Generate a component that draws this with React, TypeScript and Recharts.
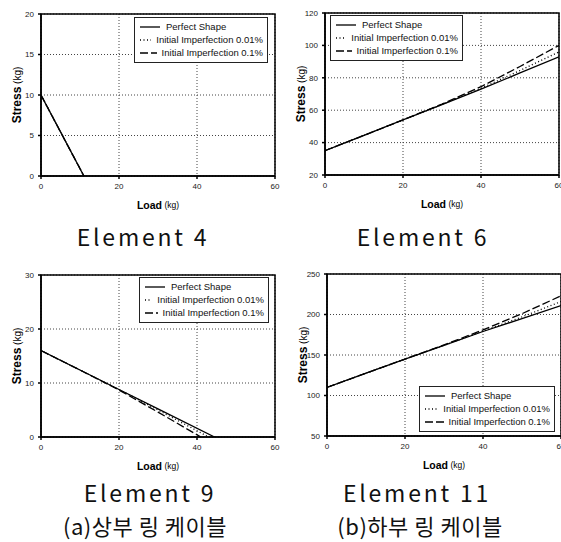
import React from 'react';
import { LineChart, Line, XAxis, YAxis, CartesianGrid, ReferenceArea, Legend, Label } from 'recharts';

// x axis is the same for all four panels
const loadTicks = [0, 20, 40, 60];

// Element 4
const e4Ticks = [0, 5, 10, 15, 20];
const e4Load = [0, 11];
const e4Perfect = [10, 0];
const e4Imp001 = [10, 0];
const e4Imp01 = [10, 0];

// Element 6
const e6Ticks = [20, 40, 60, 80, 100, 120];
const e6Load = [0, 10, 20, 30, 40, 50, 60];
const e6Perfect = [35, 44.5, 54, 63.5, 73, 83, 93];
const e6Imp001 = [35, 44.5, 54, 63.5, 73.5, 84.5, 96];
const e6Imp01 = [35, 44.5, 54, 63.8, 74.5, 87, 100];

// Element 9
const e9Ticks = [0, 10, 20, 30];
const e9LoadPerfect = [0, 10, 20, 30, 44.5];
const e9Perfect = [16, 12.4, 8.8, 5.2, 0];
const e9LoadImp001 = [0, 10, 20, 30, 43];
const e9Imp001 = [16, 12.4, 8.8, 5, 0];
const e9LoadImp01 = [0, 10, 20, 30, 41];
const e9Imp01 = [16, 12.4, 8.7, 4.6, 0];

// Element 11
const e11Ticks = [50, 100, 150, 200, 250];
const e11Load = [0, 10, 20, 30, 40, 50, 60];
const e11Perfect = [110, 127.5, 145, 162, 179, 195, 211];
const e11Imp001 = [110, 127.5, 145, 162, 179.5, 197, 216];
const e11Imp01 = [110, 127.5, 145, 162.5, 181, 201, 223];

const seriesNames = ['Perfect Shape', 'Initial Imperfection 0.01%', 'Initial Imperfection 0.1%'];
const dashes = [undefined, '1 2.5', '8 3'];

const sans = '"Liberation Sans", Arial, sans-serif';
const captionFont = '"Noto Sans CJK KR", "Noto Sans", sans-serif';

const toRows = (load: number[], stress: number[]) =>
  load.map((l, i) => ({ load: l, stress: stress[i] }));

const YTitle = (props: any) => {
  const { x, y, height } = props.viewBox;
  const cx = x + 17;
  const cy = y + height / 2;
  return (
    <text x={cx} y={cy} transform={`rotate(-90, ${cx}, ${cy})`} textAnchor="middle" dominantBaseline="central" fontFamily={sans} fill="#000">
      <tspan fontWeight="bold" fontSize={12}>Stress</tspan>
      <tspan fontSize={10}> (kg)</tspan>
    </text>
  );
};

const XTitle = (props: any) => {
  const { x, y, width } = props.viewBox;
  return (
    <text x={x + width / 2} y={y + 29} textAnchor="middle" dominantBaseline="central" fontFamily={sans} fill="#000">
      <tspan fontWeight="bold" fontSize={10.5}>Load</tspan>
      <tspan fontSize={8.5}> (kg)</tspan>
    </text>
  );
};

const LegendBox = () => (
  <div style={{ border: '1px solid #222', background: '#fff', padding: '2px 4px 3px 4px', fontFamily: sans, fontSize: 9.5, color: '#111', lineHeight: '13px' }}>
    {seriesNames.map((name, i) => (
      <div key={name} style={{ display: 'flex', alignItems: 'center' }}>
        <svg width={22} height={8} style={{ marginRight: 5 }}>
          <line x1={1} y1={4} x2={21} y2={4} stroke="#000" strokeWidth={1.3} strokeDasharray={dashes[i]} />
        </svg>
        <span style={{ whiteSpace: 'nowrap' }}>{name}</span>
      </div>
    ))}
  </div>
);

interface PanelProps {
  left: number;
  top: number;
  yTicks: number[];
  series: { name: string; rows: { load: number; stress: number }[] }[];
  legendLeft: number;
  legendTop: number;
  legendWidth: number;
}

const Panel: React.FC<PanelProps> = ({ left, top, yTicks, series, legendLeft, legendTop, legendWidth }) => {
  const yMin = yTicks[0];
  const yMax = yTicks[yTicks.length - 1];
  return (
    <div style={{ position: 'absolute', left, top }}>
      <LineChart width={280} height={216} margin={{ top: 14, right: 5, left: 0, bottom: 0 }}>
        <CartesianGrid stroke="#444" strokeWidth={1} strokeDasharray="1 2" />
        <XAxis
          dataKey="load"
          type="number"
          domain={[0, 60]}
          ticks={loadTicks}
          height={40}
          tickSize={3}
          tickMargin={4}
          tick={{ fontSize: 8, fill: '#222', fontFamily: sans }}
          stroke="#000"
          strokeWidth={1.5}
          allowDataOverflow
        >
          <Label content={<XTitle />} />
        </XAxis>
        <YAxis
          dataKey="stress"
          type="number"
          domain={[yMin, yMax]}
          ticks={yTicks}
          width={41}
          tickSize={3}
          tickMargin={4}
          tick={{ fontSize: 8, fill: '#222', fontFamily: sans }}
          stroke="#000"
          strokeWidth={1.5}
          allowDataOverflow
        >
          <Label content={<YTitle />} />
        </YAxis>
        <ReferenceArea x1={0} x2={60} y1={yMin} y2={yMax} fill="none" stroke="#000" strokeWidth={1.5} fillOpacity={0} />
        {series.map((s, i) => (
          <Line
            key={s.name}
            data={s.rows}
            dataKey="stress"
            name={s.name}
            stroke="#000"
            strokeWidth={1.3}
            strokeDasharray={dashes[i]}
            dot={false}
            isAnimationActive={false}
          />
        ))}
        <Legend
          layout="vertical"
          align="center"
          verticalAlign="middle"
          content={<LegendBox />}
          wrapperStyle={{ left: legendLeft, top: legendTop, width: legendWidth, bottom: 'auto', right: 'auto' }}
        />
      </LineChart>
    </div>
  );
};

const Caption: React.FC<{ cx: number; cy: number; text: string; spacing?: number; size?: number }> = ({ cx, cy, text, spacing = 2.8, size = 23 }) => (
  <div
    style={{
      position: 'absolute',
      left: cx - 150,
      top: cy - 13,
      width: 300,
      height: 26,
      lineHeight: '26px',
      textAlign: 'center',
      fontFamily: captionFont,
      fontSize: size,
      letterSpacing: spacing,
      color: '#111',
      whiteSpace: 'nowrap',
    }}
  >
    {text}
  </div>
);

export default function App() {
  return (
    <div style={{ position: 'absolute', left: 0, top: 0, width: 561, height: 542, overflow: 'hidden', background: '#fff' }}>
      <Panel
        left={0}
        top={0}
        yTicks={e4Ticks}
        series={[
          { name: seriesNames[0], rows: toRows(e4Load, e4Perfect) },
          { name: seriesNames[1], rows: toRows(e4Load, e4Imp001) },
          { name: seriesNames[2], rows: toRows(e4Load, e4Imp01) },
        ]}
        legendLeft={134}
        legendTop={17}
        legendWidth={134}
      />
      <Panel
        left={284}
        top={-1}
        yTicks={e6Ticks}
        series={[
          { name: seriesNames[0], rows: toRows(e6Load, e6Perfect) },
          { name: seriesNames[1], rows: toRows(e6Load, e6Imp001) },
          { name: seriesNames[2], rows: toRows(e6Load, e6Imp01) },
        ]}
        legendLeft={46}
        legendTop={16}
        legendWidth={133}
      />
      <Panel
        left={0}
        top={261}
        yTicks={e9Ticks}
        series={[
          { name: seriesNames[0], rows: toRows(e9LoadPerfect, e9Perfect) },
          { name: seriesNames[1], rows: toRows(e9LoadImp001, e9Imp001) },
          { name: seriesNames[2], rows: toRows(e9LoadImp01, e9Imp01) },
        ]}
        legendLeft={139}
        legendTop={16}
        legendWidth={130}
      />
      <Panel
        left={286}
        top={260}
        yTicks={e11Ticks}
        series={[
          { name: seriesNames[0], rows: toRows(e11Load, e11Perfect) },
          { name: seriesNames[1], rows: toRows(e11Load, e11Imp001) },
          { name: seriesNames[2], rows: toRows(e11Load, e11Imp01) },
        ]}
        legendLeft={133}
        legendTop={126}
        legendWidth={136}
      />
      <Caption cx={143} cy={236} text="Element 4" />
      <Caption cx={423} cy={236} text="Element 6" />
      <Caption cx={150} cy={492} text="Element 9" />
      <Caption cx={417} cy={492} text="Element 11" />
      <Caption cx={145} cy={525} text="(a)상부 링 케이블" spacing={0.5} size={22} />
      <Caption cx={420} cy={525} text="(b)하부 링 케이블" spacing={0.5} size={22} />
    </div>
  );
}
